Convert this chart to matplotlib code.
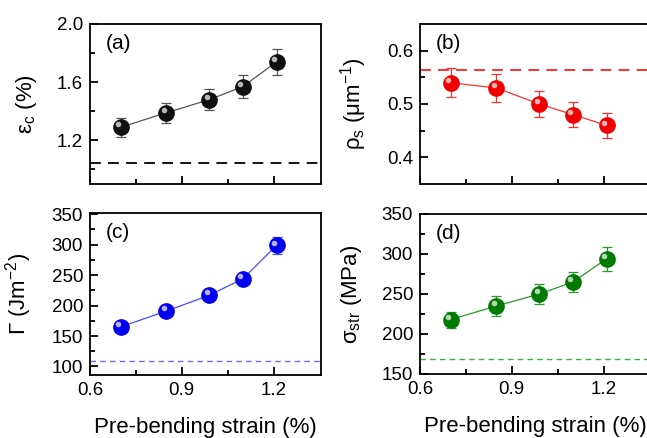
# -*- coding: utf-8 -*-
"""Pre-bending strain dependence of four film properties
"""
import matplotlib
matplotlib.use('Agg')
import matplotlib.pyplot as plt
import matplotlib.transforms as mtransforms

# data
strain = [0.70, 0.85, 0.99, 1.10, 1.21]

eps_c = [1.29, 1.39, 1.48, 1.57, 1.74]
eps_c_err = [0.065, 0.07, 0.07, 0.08, 0.088]
eps_c_ref = 1.045

rho_s = [0.540, 0.530, 0.500, 0.480, 0.460]
rho_s_err = [0.027, 0.027, 0.025, 0.024, 0.023]
rho_s_ref = 0.563

gamma = [165, 191, 217, 244, 299]
gamma_err = [5, 7, 9, 10, 14]
gamma_ref = 109

sigma = [218, 235, 250, 265, 294]
sigma_err = [10, 12, 12, 13, 15]
sigma_ref = 169

plt.rcParams.update({'font.family': ['Liberation Sans', 'DejaVu Sans'],
                     'mathtext.default': 'regular',
                     'font.size': 13.5,
                     'axes.linewidth': 1.3,
                     'xtick.direction': 'in', 'ytick.direction': 'in',
                     'xtick.major.size': 6, 'ytick.major.size': 6,
                     'xtick.minor.size': 3.5, 'ytick.minor.size': 3.5,
                     'xtick.major.width': 1.3, 'ytick.major.width': 1.3,
                     'xtick.minor.width': 1.3, 'ytick.minor.width': 1.3})

W, H = 647, 438
fig = plt.figure(figsize=(W / 100, H / 100), dpi=100)


def px_axes(x0, y0, x1, y1):
    return fig.add_axes([x0 / W, 1 - y1 / H, (x1 - x0) / W, (y1 - y0) / H])


ax_a = px_axes(90, 24, 321, 184)
ax_b = px_axes(420, 24, 651, 184)
ax_c = px_axes(90, 213, 321, 375)
ax_d = px_axes(420, 214, 651, 374)

panels = [
    (ax_a, eps_c, eps_c_err, eps_c_ref, '#101010', '#555555', 'black', 1.3, (6, 4),
     (0.9, 2.0), [1.2, 1.6, 2.0], [1.0, 1.4, 1.8], '%.1f', '(a)', r'ε$_{c}$ (%)'),
    (ax_b, rho_s, rho_s_err, rho_s_ref, '#ee0000', '#ff3030', '#ff2020', 1.3, (6, 4),
     (0.35, 0.65), [0.4, 0.5, 0.6], [0.45, 0.55], '%.1f', '(b)', r'ρ$_{s}$ (μm$^{-1}$)'),
    (ax_c, gamma, gamma_err, gamma_ref, '#0000ee', '#4a4aff', '#6b6bff', 1.0, (4, 3),
     (86, 352), [100, 150, 200, 250, 300, 350], [125, 175, 225, 275, 325], '%d', '(c)', r'Γ (Jm$^{-2}$)'),
    (ax_d, sigma, sigma_err, sigma_ref, '#007a00', '#2a9a2a', '#40b040', 1.0, (4, 3),
     (150, 350), [150, 200, 250, 300, 350], [175, 225, 275, 325], '%d', '(d)', r'σ$_{str}$ (MPa)'),
]

for (ax, y, yerr, yref, col, lcol, dcol, dlw, dash, ylim, majt, mint, fmt, tag, ylab) in panels:
    ax.axhline(yref, color=dcol, lw=dlw, dashes=dash)
    ax.errorbar(strain, y, yerr=yerr, color=lcol, lw=0.9, elinewidth=0.9,
                capsize=3.5, capthick=0.9, marker='o', ms=11, mfc=col, mec=col, zorder=3)
    # sphere highlight
    off = mtransforms.offset_copy(ax.transData, fig=fig, x=-2, y=2, units='points')
    ax.plot(strain, y, 'o', ms=4, mfc='white', mec='none', alpha=0.7, transform=off, zorder=4)
    ax.set_xlim(0.6, 1.355)
    ax.set_ylim(*ylim)
    ax.set_xticks([0.6, 0.9, 1.2])
    ax.set_xticks([0.75, 1.05], minor=True)
    ax.set_yticks(majt)
    ax.set_yticks(mint, minor=True)
    ax.set_yticklabels([fmt % v for v in majt])
    ax.tick_params(axis='both', labelsize=13.5, pad=5)
    ax.text(0.07, 0.94, tag, transform=ax.transAxes, fontsize=15, va='top', ha='left')
    ax.set_ylabel(ylab, fontsize=16, labelpad=13)

for ax in (ax_a, ax_b):
    ax.tick_params(axis='x', labelbottom=False)
for ax in (ax_c, ax_d):
    ax.set_xticklabels(['0.6', '0.9', '1.2'])
    ax.set_xlabel('Pre-bending strain (%)', fontsize=16, labelpad=13)

fig.savefig('out.png', dpi=100)
